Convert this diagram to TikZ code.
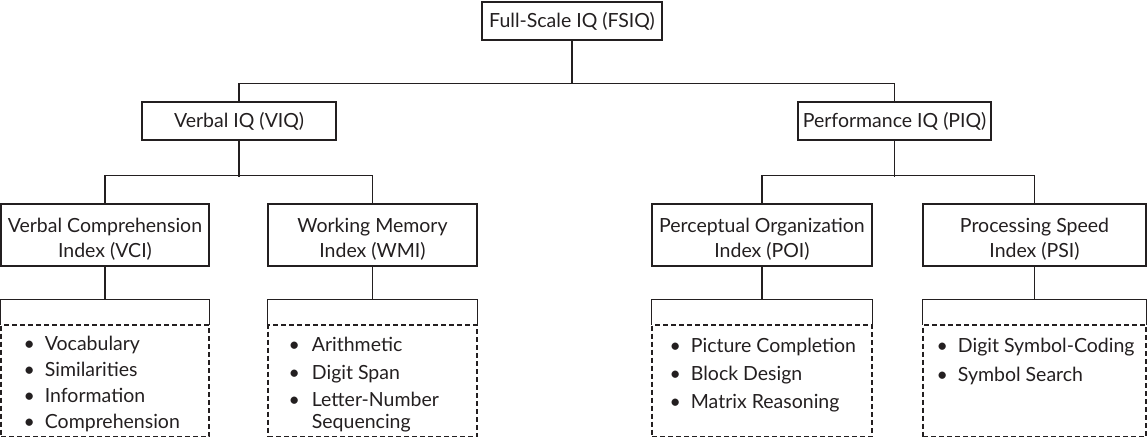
\documentclass[tikz,border=0pt]{standalone}
\usepackage{fontspec}
\setmainfont{Lato}
\usetikzlibrary{positioning}
\definecolor{ink}{HTML}{231F20}
\tikzset{
  box/.style={draw=ink, line width=1.2pt, rectangle, align=center, inner sep=0pt, text=ink, font=\fontsize{19.5}{25}\selectfont},
  hdr/.style={rectangle, inner sep=0pt, minimum height=25pt},
  lst/.style={draw=ink, dashed, dash pattern=on 5pt off 3pt, line width=1.2pt, rectangle, inner sep=0pt, minimum height=111.5pt},
  items/.style={anchor=north west, inner sep=0pt, text=ink, font=\fontsize{19.5}{27.5}\selectfont},
  conn/.style={draw=ink, line width=1.2pt}
}
\newcommand{\bl}{\textbullet}
\newcommand{\lowr}{\rule{0pt}{22pt}}
\begin{document}
\begin{tikzpicture}[x=1pt,y=-1pt]
\useasboundingbox (0,0) rectangle (1147,437);
% level 0
\node[box, line width=2.2pt, minimum width=180pt, minimum height=38pt] (fsiq) at (572,21) {Full-Scale IQ (FSIQ)};
% level 1
\node[box, minimum width=194pt, minimum height=38pt] (viq) at (239,121) {Verbal IQ (VIQ)};
\node[box, minimum width=193pt, minimum height=38pt] (piq) at (894.5,121) {Performance IQ (PIQ)};
% level 2
\node[box, minimum width=208pt, minimum height=62pt] (vci) at (105,235) {\lowr Verbal Comprehension\\Index (VCI)};
\node[box, minimum width=209pt, minimum height=62pt] (wmi) at (372.5,235) {\lowr Working Memory\\Index (WMI)};
\node[box, minimum width=220pt, minimum height=62pt] (poi) at (762,235) {\lowr Perceptual Organization\\Index (POI)};
\node[box, minimum width=223pt, minimum height=62pt] (psi) at (1034.5,235) {\lowr Processing Speed\\Index (PSI)};
% headers
\node[hdr, minimum width=208pt] (vcih) at (105,312.5) {};
\node[hdr, minimum width=209pt] (wmih) at (372.5,312.5) {};
\node[hdr, minimum width=220pt] (poih) at (762,312.5) {};
\node[hdr, minimum width=223pt] (psih) at (1034.5,312.5) {};
\foreach \h in {vcih,wmih,poih,psih}{
  \draw[conn] (\h.south west) |- (\h.north east) -- (\h.south east);
}
% lists
\node[lst, minimum width=208pt] (vcil) at (105,380.75) {};
\node[lst, minimum width=209pt] (wmil) at (372.5,380.75) {};
\node[lst, minimum width=220pt] (poil) at (762,380.75) {};
\node[lst, minimum width=223pt] (psil) at (1034.5,380.75) {};
\node[items, font=\fontsize{19.5}{26.3}\selectfont] (vcit) at ([xshift=23pt,yshift=-7pt]vcil.north west) {\begin{tabular}{@{}l@{\hspace{10pt}}l@{}}
\bl & Vocabulary\\ \bl & Similarities\\ \bl & Information\\ \bl & Comprehension\end{tabular}};
\node[items] (wmit) at ([xshift=21pt,yshift=-8pt]wmil.north west) {\begin{tabular}{@{}l@{\hspace{12pt}}l@{}}
\bl & Arithmetic\\ \bl & Digit Span\\ \bl & Letter-Number\\[-5.5pt] & Sequencing\end{tabular}};
\node[items, font=\fontsize{19.5}{28}\selectfont] (poit) at ([xshift=18pt,yshift=-8pt]poil.north west) {\begin{tabular}{@{}l@{\hspace{10pt}}l@{}}
\bl & Picture Completion\\ \bl & Block Design\\ \bl & Matrix Reasoning\end{tabular}};
\node[items, font=\fontsize{19.5}{29}\selectfont] (psit) at ([xshift=14pt,yshift=-8pt]psil.north west) {\begin{tabular}{@{}l@{\hspace{10pt}}l@{}}
\bl & Digit Symbol-Coding\\ \bl & Symbol Search\end{tabular}};
% connectors
\draw[conn] (fsiq.south) -- ++(0,43);
\draw[conn] (viq.north) -- ++(0,-18.3) -| (piq.north);
\draw[conn] (viq.south) -- ++(0,36);
\draw[conn] (vci.north) -- ++(0,-28) -| (wmi.north);
\draw[conn] (piq.south) -- ++(0,36);
\draw[conn] (poi.north) -- ++(0,-28) -| (psi.north);
\draw[conn] (vci.south) -- (vcih.north);
\draw[conn] (wmi.south) -- (wmih.north);
\draw[conn] (poi.south) -- (poih.north);
\draw[conn] (psi.south) -- (psih.north);
\end{tikzpicture}
\end{document}
